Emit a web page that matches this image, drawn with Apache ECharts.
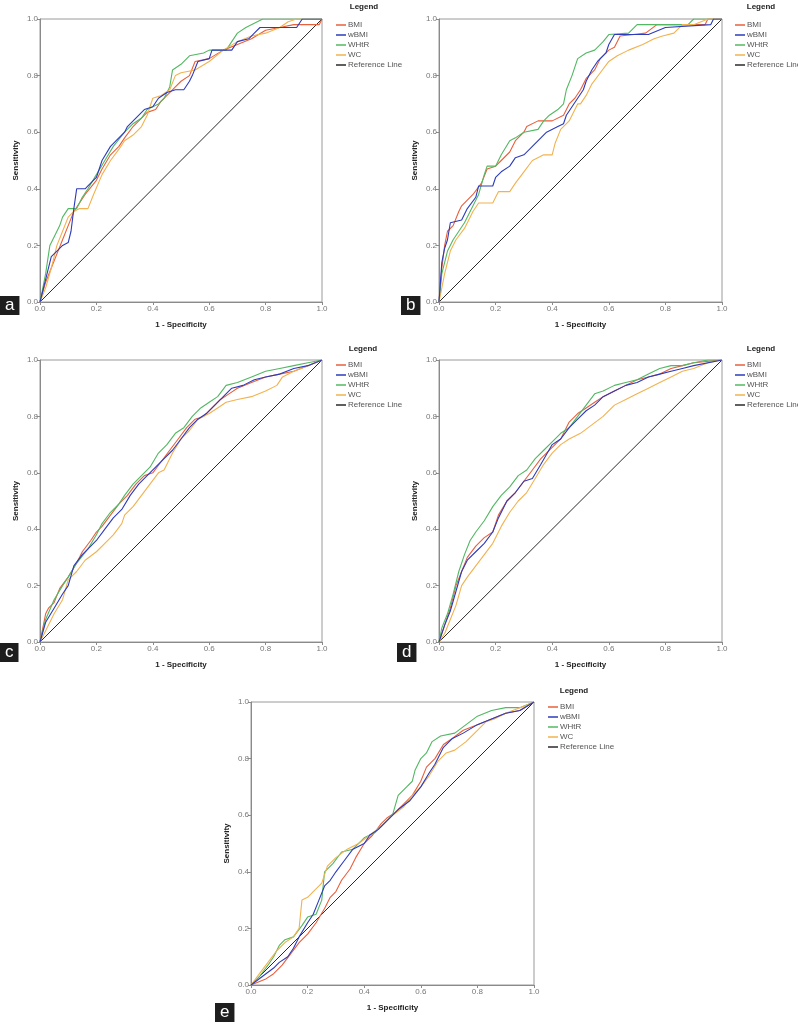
<!DOCTYPE html>
<html>
<head>
<meta charset="utf-8">
<script src="https://cdn.jsdelivr.net/npm/echarts@6/dist/echarts.min.js"></script>
<style>
html,body{margin:0;padding:0;background:#fff;}
#chart{width:798px;height:1024px;}
</style>
</head>
<body>
<div id="chart"></div>
<script>
const seriesNames = ['BMI', 'wBMI', 'WHtR', 'WC', 'Reference Line'];
const panelLabels = ['a', 'b', 'c', 'd', 'e'];
const xTickLabels = ['0.0', '0.2', '0.4', '0.6', '0.8', '1.0'];
const refLine = [[0, 0], [1, 1]];

// Panel a
const a_BMI = [[0,0],[0.02,0.07],[0.04,0.12],[0.06,0.17],[0.08,0.22],[0.1,0.27],[0.12,0.32],[0.14,0.35],[0.16,0.38],[0.2,0.43],[0.22,0.47],[0.25,0.52],[0.28,0.55],[0.3,0.58],[0.33,0.62],[0.36,0.65],[0.38,0.67],[0.41,0.68],[0.43,0.71],[0.46,0.74],[0.48,0.76],[0.5,0.78],[0.53,0.8],[0.55,0.85],[0.6,0.86],[0.65,0.89],[0.7,0.91],[0.75,0.93],[0.8,0.96],[0.85,0.97],[0.9,0.98],[0.99,0.98],[1,1]];
const a_wBMI = [[0,0],[0.02,0.08],[0.04,0.16],[0.06,0.18],[0.08,0.2],[0.1,0.21],[0.11,0.25],[0.12,0.33],[0.13,0.4],[0.16,0.4],[0.17,0.41],[0.2,0.44],[0.22,0.5],[0.25,0.55],[0.27,0.57],[0.3,0.6],[0.31,0.62],[0.34,0.65],[0.37,0.68],[0.4,0.69],[0.42,0.72],[0.45,0.74],[0.48,0.75],[0.51,0.75],[0.53,0.78],[0.54,0.8],[0.56,0.85],[0.6,0.86],[0.61,0.89],[0.68,0.89],[0.7,0.92],[0.74,0.93],[0.76,0.95],[0.78,0.97],[0.91,0.97],[0.93,1],[1,1]];
const a_WHtR = [[0,0],[0.02,0.1],[0.035,0.2],[0.05,0.23],[0.07,0.27],[0.08,0.3],[0.1,0.33],[0.13,0.33],[0.15,0.37],[0.17,0.4],[0.2,0.45],[0.23,0.5],[0.26,0.55],[0.3,0.6],[0.33,0.63],[0.36,0.65],[0.38,0.68],[0.42,0.7],[0.44,0.72],[0.46,0.76],[0.47,0.82],[0.5,0.84],[0.53,0.87],[0.58,0.88],[0.6,0.89],[0.66,0.89],[0.68,0.92],[0.7,0.95],[0.73,0.97],[0.79,1],[1,1]];
const a_WC = [[0,0],[0.02,0.05],[0.04,0.12],[0.06,0.2],[0.08,0.25],[0.1,0.3],[0.12,0.32],[0.14,0.33],[0.17,0.33],[0.19,0.38],[0.22,0.45],[0.25,0.5],[0.28,0.54],[0.3,0.57],[0.33,0.59],[0.36,0.62],[0.38,0.66],[0.4,0.72],[0.43,0.73],[0.46,0.75],[0.48,0.8],[0.5,0.81],[0.55,0.82],[0.6,0.85],[0.65,0.89],[0.7,0.92],[0.75,0.94],[0.8,0.95],[0.85,0.97],[0.88,0.99],[0.91,1],[1,1]];

// Panel b
const b_BMI = [[0,0],[0.01,0.12],[0.02,0.2],[0.03,0.25],[0.05,0.27],[0.07,0.32],[0.08,0.34],[0.12,0.38],[0.15,0.42],[0.17,0.47],[0.2,0.48],[0.22,0.5],[0.25,0.53],[0.27,0.57],[0.3,0.6],[0.31,0.62],[0.35,0.64],[0.4,0.64],[0.44,0.66],[0.46,0.7],[0.48,0.72],[0.5,0.75],[0.52,0.79],[0.55,0.82],[0.57,0.86],[0.6,0.89],[0.62,0.9],[0.64,0.94],[0.73,0.95],[0.77,0.98],[0.94,0.98],[0.95,1],[1,1]];
const b_wBMI = [[0,0],[0.01,0.14],[0.02,0.19],[0.03,0.22],[0.04,0.28],[0.08,0.29],[0.1,0.33],[0.13,0.37],[0.14,0.41],[0.19,0.41],[0.2,0.44],[0.22,0.46],[0.25,0.48],[0.27,0.51],[0.3,0.52],[0.33,0.55],[0.36,0.58],[0.38,0.6],[0.42,0.62],[0.44,0.63],[0.45,0.66],[0.47,0.69],[0.49,0.72],[0.51,0.75],[0.52,0.78],[0.54,0.82],[0.56,0.85],[0.59,0.88],[0.6,0.91],[0.62,0.945],[0.74,0.945],[0.8,0.97],[0.96,0.98],[0.97,1],[1,1]];
const b_WHtR = [[0,0],[0.01,0.1],[0.03,0.18],[0.05,0.22],[0.07,0.25],[0.09,0.28],[0.11,0.32],[0.14,0.38],[0.16,0.45],[0.17,0.48],[0.2,0.48],[0.22,0.52],[0.25,0.57],[0.27,0.58],[0.3,0.6],[0.35,0.61],[0.37,0.64],[0.39,0.66],[0.42,0.68],[0.44,0.7],[0.45,0.75],[0.47,0.8],[0.49,0.86],[0.52,0.88],[0.55,0.89],[0.58,0.92],[0.6,0.945],[0.67,0.95],[0.7,0.98],[0.88,0.98],[0.9,1],[1,1]];
const b_WC = [[0,0],[0.01,0.05],[0.02,0.1],[0.04,0.18],[0.06,0.22],[0.09,0.26],[0.12,0.32],[0.14,0.35],[0.19,0.35],[0.2,0.37],[0.21,0.39],[0.25,0.39],[0.27,0.42],[0.3,0.46],[0.33,0.5],[0.37,0.52],[0.4,0.52],[0.41,0.56],[0.43,0.61],[0.46,0.64],[0.49,0.7],[0.5,0.7],[0.52,0.73],[0.54,0.77],[0.57,0.81],[0.6,0.85],[0.63,0.87],[0.67,0.89],[0.72,0.91],[0.76,0.93],[0.79,0.94],[0.83,0.95],[0.86,0.98],[0.9,0.98],[0.95,1],[1,1]];

// Panel c
const c_BMI = [[0,0],[0.02,0.1],[0.03,0.12],[0.05,0.14],[0.07,0.19],[0.1,0.23],[0.13,0.28],[0.15,0.32],[0.18,0.36],[0.2,0.39],[0.22,0.41],[0.25,0.45],[0.28,0.49],[0.31,0.52],[0.34,0.56],[0.37,0.59],[0.4,0.6],[0.43,0.64],[0.46,0.68],[0.49,0.72],[0.52,0.76],[0.55,0.79],[0.58,0.8],[0.61,0.83],[0.64,0.86],[0.67,0.88],[0.7,0.9],[0.75,0.92],[0.8,0.94],[0.85,0.95],[0.9,0.96],[0.95,0.98],[1,1]];
const c_wBMI = [[0,0],[0.02,0.07],[0.05,0.12],[0.08,0.17],[0.1,0.2],[0.12,0.27],[0.15,0.31],[0.18,0.34],[0.2,0.36],[0.23,0.4],[0.26,0.44],[0.29,0.47],[0.32,0.52],[0.35,0.56],[0.38,0.59],[0.41,0.62],[0.44,0.65],[0.47,0.68],[0.5,0.72],[0.53,0.76],[0.56,0.79],[0.59,0.81],[0.62,0.84],[0.65,0.87],[0.68,0.9],[0.72,0.91],[0.76,0.93],[0.8,0.94],[0.85,0.95],[0.9,0.97],[0.95,0.98],[1,1]];
const c_WHtR = [[0,0],[0.02,0.08],[0.05,0.15],[0.08,0.2],[0.1,0.23],[0.13,0.28],[0.17,0.33],[0.2,0.38],[0.22,0.42],[0.25,0.46],[0.28,0.49],[0.3,0.52],[0.33,0.56],[0.36,0.59],[0.39,0.62],[0.42,0.67],[0.45,0.7],[0.48,0.74],[0.51,0.76],[0.54,0.8],[0.57,0.83],[0.6,0.85],[0.63,0.87],[0.66,0.91],[0.7,0.92],[0.75,0.94],[0.8,0.96],[0.85,0.97],[0.9,0.98],[0.95,0.99],[1,1]];
const c_WC = [[0,0],[0.02,0.04],[0.05,0.1],[0.08,0.15],[0.1,0.22],[0.13,0.25],[0.16,0.29],[0.2,0.32],[0.23,0.35],[0.26,0.38],[0.29,0.42],[0.3,0.45],[0.33,0.48],[0.36,0.52],[0.39,0.56],[0.42,0.6],[0.44,0.61],[0.47,0.67],[0.5,0.72],[0.53,0.75],[0.56,0.79],[0.6,0.81],[0.63,0.83],[0.66,0.85],[0.7,0.86],[0.75,0.87],[0.8,0.89],[0.84,0.91],[0.86,0.94],[0.9,0.96],[0.95,0.98],[1,1]];

// Panel d
const d_BMI = [[0,0],[0.02,0.06],[0.04,0.12],[0.06,0.2],[0.08,0.25],[0.1,0.3],[0.13,0.34],[0.16,0.37],[0.19,0.39],[0.21,0.45],[0.24,0.5],[0.27,0.53],[0.3,0.57],[0.33,0.61],[0.36,0.65],[0.4,0.69],[0.43,0.72],[0.46,0.78],[0.49,0.81],[0.52,0.83],[0.55,0.85],[0.58,0.87],[0.62,0.89],[0.66,0.91],[0.7,0.93],[0.74,0.94],[0.78,0.95],[0.82,0.97],[0.86,0.98],[0.9,0.99],[1,1]];
const d_wBMI = [[0,0],[0.02,0.06],[0.04,0.11],[0.06,0.18],[0.08,0.25],[0.1,0.29],[0.13,0.32],[0.16,0.35],[0.19,0.39],[0.21,0.44],[0.24,0.5],[0.27,0.53],[0.3,0.57],[0.33,0.58],[0.36,0.63],[0.4,0.7],[0.43,0.72],[0.46,0.76],[0.49,0.79],[0.52,0.82],[0.55,0.84],[0.58,0.87],[0.62,0.89],[0.66,0.91],[0.7,0.92],[0.74,0.94],[0.78,0.95],[0.82,0.96],[0.86,0.97],[0.9,0.98],[1,1]];
const d_WHtR = [[0,0],[0.01,0.05],[0.03,0.1],[0.05,0.17],[0.07,0.25],[0.09,0.31],[0.11,0.36],[0.13,0.39],[0.16,0.43],[0.19,0.48],[0.22,0.52],[0.25,0.55],[0.28,0.59],[0.31,0.61],[0.34,0.65],[0.37,0.68],[0.4,0.71],[0.43,0.74],[0.46,0.76],[0.49,0.8],[0.52,0.84],[0.55,0.88],[0.58,0.89],[0.62,0.91],[0.66,0.92],[0.7,0.93],[0.74,0.95],[0.78,0.97],[0.82,0.98],[0.86,0.98],[0.9,0.99],[0.95,1],[1,1]];
const d_WC = [[0,0],[0.02,0.03],[0.04,0.08],[0.06,0.13],[0.08,0.2],[0.1,0.23],[0.13,0.27],[0.16,0.31],[0.19,0.35],[0.22,0.41],[0.25,0.46],[0.28,0.5],[0.31,0.53],[0.34,0.58],[0.37,0.63],[0.4,0.67],[0.43,0.7],[0.46,0.72],[0.5,0.74],[0.54,0.77],[0.58,0.8],[0.62,0.84],[0.66,0.86],[0.7,0.88],[0.74,0.9],[0.78,0.92],[0.82,0.94],[0.86,0.96],[0.9,0.97],[0.95,0.99],[1,1]];

// Panel e
const e_BMI = [[0,0],[0.05,0.02],[0.08,0.04],[0.11,0.07],[0.14,0.11],[0.17,0.15],[0.2,0.18],[0.23,0.22],[0.26,0.27],[0.28,0.31],[0.3,0.33],[0.32,0.37],[0.35,0.41],[0.37,0.45],[0.4,0.5],[0.43,0.53],[0.46,0.57],[0.48,0.59],[0.51,0.61],[0.54,0.64],[0.57,0.67],[0.6,0.72],[0.62,0.77],[0.65,0.8],[0.68,0.85],[0.71,0.87],[0.75,0.9],[0.8,0.92],[0.85,0.94],[0.9,0.96],[0.95,0.97],[1,1]];
const e_wBMI = [[0,0],[0.04,0.03],[0.08,0.06],[0.1,0.08],[0.13,0.1],[0.15,0.13],[0.17,0.17],[0.2,0.22],[0.22,0.25],[0.24,0.3],[0.26,0.35],[0.28,0.37],[0.3,0.4],[0.33,0.44],[0.36,0.48],[0.4,0.5],[0.42,0.53],[0.45,0.55],[0.48,0.58],[0.52,0.62],[0.56,0.65],[0.6,0.7],[0.63,0.75],[0.65,0.78],[0.68,0.84],[0.71,0.87],[0.75,0.89],[0.8,0.92],[0.85,0.94],[0.9,0.96],[0.95,0.97],[1,1]];
const e_WHtR = [[0,0],[0.03,0.03],[0.06,0.07],[0.08,0.1],[0.1,0.14],[0.12,0.16],[0.15,0.17],[0.18,0.21],[0.2,0.24],[0.23,0.25],[0.25,0.3],[0.26,0.4],[0.29,0.43],[0.32,0.47],[0.36,0.48],[0.4,0.52],[0.44,0.54],[0.47,0.57],[0.5,0.6],[0.52,0.67],[0.55,0.7],[0.57,0.72],[0.58,0.76],[0.6,0.8],[0.62,0.82],[0.64,0.86],[0.67,0.88],[0.72,0.89],[0.76,0.92],[0.8,0.95],[0.85,0.97],[0.9,0.98],[0.95,0.98],[1,1]];
const e_WC = [[0,0],[0.03,0.04],[0.06,0.08],[0.09,0.12],[0.12,0.15],[0.15,0.17],[0.17,0.2],[0.18,0.3],[0.2,0.31],[0.22,0.33],[0.25,0.36],[0.27,0.42],[0.3,0.45],[0.34,0.48],[0.38,0.5],[0.42,0.53],[0.46,0.56],[0.5,0.6],[0.54,0.63],[0.57,0.67],[0.6,0.7],[0.63,0.74],[0.66,0.79],[0.69,0.82],[0.72,0.83],[0.76,0.86],[0.8,0.9],[0.83,0.93],[0.86,0.94],[0.9,0.96],[0.95,0.98],[1,1]];

const panelData = [
  [a_BMI, a_wBMI, a_WHtR, a_WC],
  [b_BMI, b_wBMI, b_WHtR, b_WC],
  [c_BMI, c_wBMI, c_WHtR, c_WC],
  [d_BMI, d_wBMI, d_WHtR, d_WC],
  [e_BMI, e_wBMI, e_WHtR, e_WC]
];

// layout (pixels)
const grids = [
  {left: 40, top: 19, width: 282, height: 283},
  {left: 439, top: 19, width: 283, height: 283},
  {left: 40, top: 360, width: 282, height: 282},
  {left: 439, top: 360, width: 283, height: 282},
  {left: 251, top: 702, width: 283, height: 283}
];
const legendPos = [
  {left: 331, top: 15, titleX: 364, titleY: 3},
  {left: 730, top: 15, titleX: 761, titleY: 3},
  {left: 331, top: 355, titleX: 363, titleY: 345},
  {left: 730, top: 355, titleX: 761, titleY: 345},
  {left: 543, top: 697, titleX: 574, titleY: 687}
];
const labelBoxes = [
  {left: 0, top: 296},
  {left: 401, top: 296},
  {left: 0, top: 643},
  {left: 397, top: 643},
  {left: 215, top: 1003}
];
const colors = ['#e8603c', '#2c3cbc', '#52b862', '#f2b24e', '#2a2a2a'];
const FONT = 'Liberation Sans, Arial, sans-serif';

const option = {
  animation: false,
  backgroundColor: '#fff',
  textStyle: {fontFamily: FONT},
  grid: grids.map(g => Object.assign({show: true, borderColor: '#9a9a9a', borderWidth: 1, backgroundColor: 'transparent'}, g)),
  xAxis: grids.map((g, i) => ({
    type: 'value', gridIndex: i, min: 0, max: 1, interval: 0.2,
    name: '1 - Specificity', nameLocation: 'middle', nameGap: 19,
    nameTextStyle: {fontSize: 8, fontWeight: 'bold', color: '#222', fontFamily: FONT},
    axisLine: {show: true, lineStyle: {color: '#8a8a8a', width: 1}},
    axisTick: {show: true, length: 3, lineStyle: {color: '#8a8a8a'}},
    axisLabel: {fontSize: 8, color: '#777', margin: 3, formatter: v => xTickLabels[Math.round(v / 0.2)]},
    splitLine: {show: false}
  })),
  yAxis: grids.map((g, i) => ({
    type: 'value', gridIndex: i, min: 0, max: 1, interval: 0.2,
    name: 'Sensitivity', nameLocation: 'middle', nameGap: 20, nameRotate: 90,
    nameTextStyle: {fontSize: 8, fontWeight: 'bold', color: '#222', fontFamily: FONT},
    axisLine: {show: true, lineStyle: {color: '#8a8a8a', width: 1}},
    axisTick: {show: true, length: 3, lineStyle: {color: '#8a8a8a'}},
    axisLabel: {fontSize: 8, color: '#777', margin: 2, formatter: v => xTickLabels[Math.round(v / 0.2)]},
    splitLine: {show: false}
  })),
  legend: legendPos.map(p => ({
    left: p.left, top: p.top, orient: 'vertical',
    itemWidth: 10, itemHeight: 1.5, itemGap: 0, icon: 'rect',
    selectedMode: false,
    textStyle: {fontSize: 8, color: '#555', lineHeight: 10, padding: [0, 0, 0, -3], fontFamily: FONT},
    data: seriesNames
  })),
  title: [].concat(
    legendPos.map(p => ({
      text: 'Legend', left: p.titleX, top: p.titleY, textAlign: 'center', padding: 0,
      textStyle: {fontSize: 8, fontWeight: 'bold', color: '#222', fontFamily: FONT}
    })),
    labelBoxes.map((b, i) => ({
      text: panelLabels[i], left: b.left, top: b.top,
      backgroundColor: '#1e1e1e', padding: [0, 5, 1, 5],
      textStyle: {fontSize: 17, lineHeight: 18, color: '#fff', fontWeight: 'normal', fontFamily: FONT}
    }))
  ),
  series: []
};

panelData.forEach((curves, i) => {
  curves.forEach((data, k) => {
    option.series.push({
      type: 'line', name: seriesNames[k], xAxisIndex: i, yAxisIndex: i,
      data: data, showSymbol: false, symbol: 'none',
      lineStyle: {color: colors[k], width: 1.1}, itemStyle: {color: colors[k]},
      z: 3 + (k === 1 ? 1 : 0)
    });
  });
  option.series.push({
    type: 'line', name: seriesNames[4], xAxisIndex: i, yAxisIndex: i,
    data: refLine, showSymbol: false, symbol: 'none',
    lineStyle: {color: colors[4], width: 1}, itemStyle: {color: colors[4]}, z: 2
  });
});

const chart = echarts.init(document.getElementById('chart'), null, {renderer: 'canvas'});
chart.setOption(option);
</script>
</body>
</html>
